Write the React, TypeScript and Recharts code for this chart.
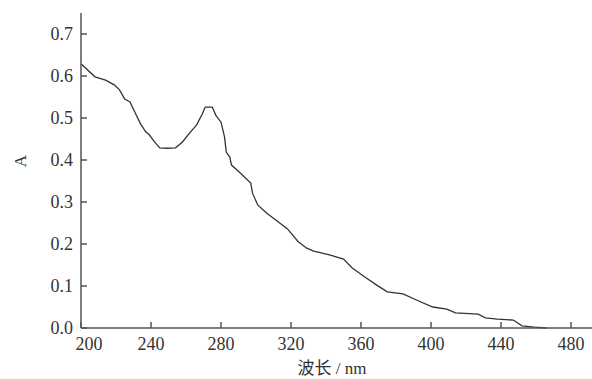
import { LineChart, Line, XAxis, YAxis } from 'recharts'

// wavelength (nm) and absorbance
const wavelengths = [
  200, 208, 214, 219, 222, 225, 228, 231, 234, 237, 239, 242, 245, 249, 254, 258, 262, 266, 269, 271,
  275, 277, 280, 282, 283, 285, 286, 291, 297, 298, 301, 306, 313, 318, 324, 329, 333, 342, 350, 355,
  363, 369, 375, 384, 392, 401, 409, 414, 427, 431, 438, 447, 452, 459, 466,
]
const absorbance = [
  0.629, 0.598, 0.59, 0.579, 0.567, 0.545, 0.538, 0.512, 0.486, 0.467, 0.46, 0.443, 0.429, 0.428, 0.429,
  0.443, 0.464, 0.483, 0.507, 0.526, 0.526, 0.507, 0.49, 0.455, 0.419, 0.407, 0.388, 0.369, 0.345, 0.321,
  0.293, 0.274, 0.252, 0.236, 0.206, 0.19, 0.183, 0.174, 0.164, 0.143, 0.119, 0.102, 0.086, 0.081, 0.066,
  0.05, 0.045, 0.036, 0.033, 0.024, 0.021, 0.019, 0.005, 0.002, 0,
]
const xTicks = [200, 240, 280, 320, 360, 400, 440, 480]
const yTicks = [0, 0.1, 0.2, 0.3, 0.4, 0.5, 0.6, 0.7]

const data = wavelengths.map((nm, i) => ({ nm, a: absorbance[i] }))

const font = '"Liberation Serif", "Noto Sans CJK SC", serif'
const axisColor = '#555'
const textColor = '#333'

function XTick(props: any) {
  const { x, y, payload } = props
  // first label is pushed right so it clears the 0.0 label
  const shift = payload.value === 200 ? 8 : 0
  return (
    <text x={x + shift} y={y} dy="0.71em" textAnchor="middle" fill={textColor} fontSize={18} fontFamily={font}>
      {payload.value}
    </text>
  )
}

export default function App() {
  return (
    <div style={{ position: 'absolute', left: 0, top: 0, background: '#fff' }}>
      <LineChart width={592} height={379} data={data} margin={{ top: 13, right: 0, bottom: 0, left: 0 }}>
        <XAxis
          dataKey="nm"
          type="number"
          domain={[200, 492]}
          ticks={xTicks}
          height={51}
          stroke={axisColor}
          strokeWidth={1.5}
          tickSize={-6}
          tickMargin={15}
          tick={<XTick />}
          label={{
            content: () => (
              <text x={332} y={374} textAnchor="middle" fill={textColor} fontSize={17} fontFamily={font}>
                波长 / nm
              </text>
            ),
          }}
        />
        <YAxis
          type="number"
          domain={[0, 0.75]}
          ticks={yTicks}
          width={81}
          stroke={axisColor}
          strokeWidth={1.5}
          tickSize={-6}
          tickMargin={14}
          tick={{ fill: textColor, fontSize: 18, fontFamily: font }}
          tickFormatter={(v: number) => v.toFixed(1)}
          label={{
            content: () => (
              <text
                x={26}
                y={161}
                transform="rotate(-90 26 161)"
                textAnchor="middle"
                fill={textColor}
                fontSize={17}
                fontFamily={font}
              >
                A
              </text>
            ),
          }}
        />
        <Line
          dataKey="a"
          type="linear"
          stroke="#333"
          strokeWidth={1.3}
          dot={false}
          isAnimationActive={false}
        />
      </LineChart>
    </div>
  )
}
